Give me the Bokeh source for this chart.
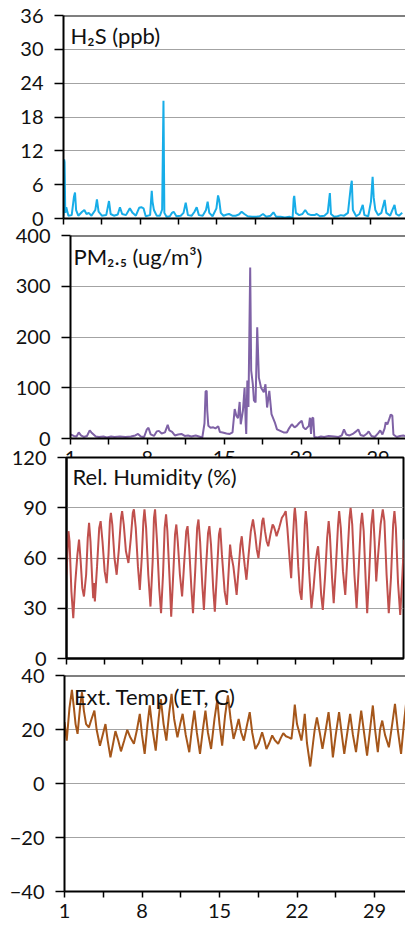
from bokeh.plotting import figure
from bokeh.models import FixedTicker, Span, Label
from bokeh.layouts import column
from bokeh.embed import file_html
from bokeh.resources import INLINE

# ---------------- data (day of month, value) ----------------
h2s_day = [1.00, 1.06, 1.10, 1.16, 1.25, 1.45, 1.75, 1.95, 2.05, 2.15, 2.35, 2.7, 2.9, 3.1, 3.3, 3.55, 3.9, 4.05, 4.2,
           4.5, 4.9, 5.15, 5.3, 5.6, 5.95, 6.15, 6.35, 6.7, 6.9, 7.05, 7.3, 7.6, 7.9, 8.1, 8.3, 8.5, 8.9, 9.05,
           9.12, 9.25, 9.5, 9.8, 10.0, 10.12, 10.2, 10.4, 10.7, 10.9, 11.05, 11.3, 11.7, 11.95, 12.15, 12.35,
           12.7, 12.95, 13.15, 13.35, 13.7, 14.0, 14.15, 14.3, 14.6, 14.95, 15.1, 15.2, 15.35, 15.6, 15.9, 16.1,
           16.4, 16.7, 17.0, 17.25, 17.5, 17.8, 18.2, 18.6, 18.9, 19.2, 19.5, 19.9, 20.15, 20.4, 20.8, 21.2,
           21.6, 21.9, 22.0, 22.05, 22.2, 22.5, 22.8, 23.05, 23.3, 23.6, 23.9, 24.1, 24.4, 24.8, 25.1, 25.3,
           25.4, 25.7, 26.0, 26.3, 26.6, 26.95, 27.2, 27.3, 27.4, 27.7, 28.0, 28.3, 28.45, 28.8, 29.05, 29.2,
           29.3, 29.45, 29.7, 30.0, 30.3, 30.45, 30.8, 31.0, 31.2, 31.35, 31.6, 31.9]
h2s_ppb = [0.5, 10.5, 10.0, 1.0, 2.0, 0.5, 0.6, 3.8, 4.6, 1.5, 0.5, 1.2, 1.5, 0.8, 1.0, 0.5, 1.5, 3.4, 1.2,
           0.5, 0.6, 3.1, 0.8, 0.5, 0.7, 2.0, 0.8, 0.6, 1.3, 1.8, 1.0, 0.5, 1.9, 2.0, 1.8, 0.4, 0.6, 4.9,
           3.0, 1.5, 0.5, 0.5, 1.6, 20.9, 1.0, 0.3, 0.4, 1.0, 1.2, 0.4, 0.5, 1.0, 2.8, 0.6,
           0.5, 1.2, 2.0, 0.6, 0.5, 1.5, 3.0, 1.0, 0.4, 1.8, 4.1, 3.3, 1.0, 0.5, 0.7, 0.8,
           0.5, 0.5, 0.7, 1.2, 0.8, 0.4, 0.3, 0.3, 0.4, 0.8, 0.3, 0.5, 1.1, 0.3, 0.3, 0.2,
           0.3, 0.1, 3.5, 4.0, 1.0, 0.6, 0.8, 1.5, 0.8, 0.6, 0.6, 0.8, 0.4, 0.5, 1.0, 4.5,
           0.8, 0.3, 0.4, 0.6, 0.5, 1.0, 5.5, 6.7, 1.5, 0.4, 0.8, 2.4, 0.6, 0.4, 3.0, 7.4,
           3.7, 1.5, 0.6, 1.0, 3.3, 1.0, 0.5, 1.5, 2.4, 0.8, 0.5, 1.0]

pm_day = [1.0, 1.3, 1.55, 1.75, 1.95, 2.2, 2.5, 2.75, 2.9, 3.1, 3.3, 3.6, 4.0, 4.3, 4.7, 5.0, 5.5, 6.0, 6.5,
          6.9, 7.15, 7.4, 7.7, 7.95, 8.1, 8.3, 8.6, 8.85, 9.05, 9.3, 9.6, 9.85, 10.0, 10.25, 10.5, 10.8, 11.1,
          11.4, 11.7, 12.0, 12.4, 12.7, 13.0, 13.2, 13.3, 13.4, 13.45, 13.55, 13.75, 14.0, 14.2, 14.45, 14.6,
          14.85, 15.2, 15.5, 15.75, 15.95, 16.1, 16.25, 16.4, 16.5, 16.7, 16.85, 16.95, 17.0, 17.1, 17.2,
          17.36, 17.45, 17.6, 17.7, 17.85, 18.0, 18.15, 18.35, 18.6, 18.75, 18.9, 19.1, 19.3, 19.6, 19.8,
          20.1, 20.4, 20.7, 20.9, 21.15, 21.4, 21.6, 21.8, 22.05, 22.2, 22.4, 22.7, 22.8, 22.9, 23.0, 23.1,
          23.2, 23.5, 23.8, 24.1, 24.5, 25.0, 25.4, 25.7, 25.9, 26.1, 26.4, 26.7, 27.0, 27.2, 27.4, 27.7,
          28.0, 28.15, 28.4, 28.7, 29.0, 29.2, 29.4, 29.6, 29.7, 29.85, 30.05, 30.15, 30.3, 30.4, 30.7,
          31.0, 31.3, 31.6, 31.9]
pm_ugm3 = [8, 5, 4, 12, 6, 3, 5, 16, 12, 8, 4, 3, 4, 2, 4, 3, 4, 3, 4,
           6, 9, 4, 3, 18, 21, 8, 5, 14, 15, 10, 12, 27, 16, 13, 6, 8, 9,
           5, 6, 4, 6, 4, 2, 30, 93, 94, 55, 25, 21, 22, 20, 24, 13,
           12, 10, 9, 12, 58, 45, 40, 72, 28, 55, 100, 30, 9, 114, 62,
           337, 134, 107, 75, 71, 219, 120, 100, 91, 107, 61, 94, 48, 32, 18,
           15, 12, 12, 20, 28, 22, 25, 30, 35, 22, 18, 25, 41, 9, 40, 41,
           3, 2, 4, 3, 5, 4, 3, 6, 18, 8, 6, 9, 14, 18, 7, 5,
           10, 14, 5, 3, 10, 16, 8, 20, 32, 28, 40, 47, 45, 8, 3,
           5, 6, 4, 5]

rh_day = [1.00, 1.08, 1.18, 1.28, 1.45, 1.62, 1.8, 2.0, 2.15, 2.3, 2.45, 2.6, 2.8, 2.95, 3.07, 3.2, 3.35, 3.45,
          3.52, 3.6, 3.8, 4.0, 4.13, 4.3, 4.5, 4.68, 4.85, 4.98, 5.07, 5.2, 5.4, 5.6, 5.8, 6.0, 6.1, 6.25,
          6.45, 6.68, 6.9, 7.08, 7.18, 7.35, 7.55, 7.72, 7.9, 8.05, 8.15, 8.3, 8.5, 8.7, 8.9, 9.02, 9.12,
          9.3, 9.5, 9.67, 9.85, 10.0, 10.13, 10.25, 10.45, 10.6, 10.8, 10.95, 11.07, 11.2, 11.4, 11.6, 11.8,
          11.98, 12.1, 12.25, 12.45, 12.6, 12.8, 12.98, 13.1, 13.25, 13.45, 13.6, 13.8, 13.98, 14.1, 14.25,
          14.45, 14.6, 14.8, 14.98, 15.1, 15.25, 15.5, 15.7, 15.85, 16.0, 16.1, 16.3, 16.6, 16.8, 16.95,
          17.07, 17.2, 17.35, 17.5, 17.7, 17.9, 18.1, 18.3, 18.45, 18.6, 18.8, 18.95, 19.05, 19.2, 19.35,
          19.5, 19.7, 19.9, 20.0, 20.15, 20.26, 20.5, 20.75, 20.95, 21.1, 21.25, 21.45, 21.6, 21.75, 21.88,
          21.94, 22.05, 22.25, 22.4, 22.55, 22.7, 22.85, 22.94, 23.05, 23.25, 23.46, 23.65, 23.85, 24.0,
          24.07, 24.2, 24.35, 24.5, 24.7, 24.9, 25.04, 25.15, 25.35, 25.5, 25.7, 25.9, 26.0, 26.15, 26.35,
          26.56, 26.75, 26.95, 27.05, 27.2, 27.4, 27.6, 27.8, 27.98, 28.1, 28.25, 28.45, 28.57, 28.75,
          28.95, 29.1, 29.25, 29.4, 29.55, 29.8, 30.0, 30.15, 30.35, 30.55, 30.75, 30.95, 31.07, 31.2,
          31.4, 31.6, 31.8, 31.95]
rh_pct = [50, 62, 76, 70, 40, 24, 45, 62, 71, 58, 42, 37, 50, 72, 81, 70, 48, 36,
          45, 34, 55, 78, 82, 70, 52, 45, 62, 82, 87, 80, 60, 50, 65, 84, 88, 80,
          64, 57, 72, 87, 89, 78, 55, 41, 60, 82, 89, 78, 50, 31, 58, 84, 89,
          70, 42, 27, 50, 78, 86, 76, 48, 25, 52, 74, 80, 70, 50, 37, 58,
          76, 79, 66, 42, 27, 52, 78, 83, 70, 44, 29, 55, 75, 79, 68,
          42, 28, 52, 74, 78, 62, 40, 32, 50, 68, 62, 55, 38, 55, 68,
          73, 64, 55, 47, 62, 76, 83, 74, 65, 60, 72, 82, 84, 76, 70,
          67, 74, 80, 79, 76, 73, 78, 84, 86, 88, 78, 60, 48, 70, 86,
          90, 82, 55, 40, 35, 55, 80, 88, 80, 52, 30, 42, 58, 65,
          67, 55, 38, 29, 48, 72, 82, 74, 48, 33, 55, 80, 88, 78, 52,
          38, 60, 84, 90, 80, 50, 30, 55, 80, 87, 76, 44, 27, 50,
          80, 89, 70, 46, 60, 80, 89, 82, 50, 27, 48, 80, 88, 78,
          45, 26, 50, 71]

et_day = [1.0, 1.2, 1.45, 1.67, 1.85, 2.0, 2.18, 2.4, 2.58, 2.75, 2.95, 3.2, 3.45, 3.7, 3.9, 4.2, 4.45, 4.7,
          4.9, 5.15, 5.4, 5.6, 5.85, 6.1, 6.4, 6.67, 6.95, 7.27, 7.55, 7.8, 8.0, 8.24, 8.5, 8.7, 8.95, 9.24,
          9.5, 9.7, 9.95, 10.2, 10.45, 10.67, 10.9, 11.2, 11.45, 11.67, 11.95, 12.27, 12.5, 12.73, 12.95,
          13.24, 13.5, 13.73, 13.95, 14.24, 14.55, 14.8, 15.0, 15.24, 15.5, 15.76, 16.0, 16.27, 16.5, 16.73,
          16.95, 17.2, 17.5, 17.73, 17.95, 18.24, 18.55, 18.85, 19.05, 19.24, 19.5, 19.76, 20.0, 20.3,
          20.55, 20.76, 21.0, 21.3, 21.5, 21.65, 21.8, 22.0, 22.4, 22.55, 22.7, 22.9, 23.2, 23.45, 23.6,
          23.8, 24.05, 24.3, 24.6, 24.85, 25.05, 25.24, 25.5, 25.8, 26.05, 26.27, 26.55, 26.8, 27.05,
          27.33, 27.55, 27.8, 28.05, 28.33, 28.6, 28.85, 29.05, 29.3, 29.5, 29.7, 29.95, 30.3, 30.6,
          30.85, 31.1, 31.4, 31.65, 31.88]
et_c = [22.7, 15.9, 28, 34.7, 28, 22, 18.4, 28, 33.8, 27, 22, 20.8, 24, 27, 20, 14, 18, 22,
        16, 9.7, 15, 19.4, 16, 11.9, 16, 19.9, 17, 14.7, 20, 25.8, 18, 11, 22, 28.9, 20, 12.2,
        24, 31.3, 22, 15.9, 26, 33.2, 24, 17.1, 22, 25.8, 18, 11.6, 20, 27, 19,
        11, 20, 27, 19, 12.8, 24, 31, 22, 14, 25, 32.6, 24, 16.5, 20, 23.9,
        19, 15.9, 22, 26.4, 19, 12.8, 15, 19, 16, 12.8, 15, 17.8, 16, 14.7,
        17, 18.6, 17.5, 17, 16.5, 22, 29.2, 22, 15.9, 20, 25.8, 15, 6.3, 15, 20,
        24.5, 19, 12.8, 20, 26.4, 19, 9.7, 18, 26.4, 18, 11, 19, 25.8, 18,
        11.6, 19, 27, 19, 10.3, 20, 28.9, 20, 11.6, 20, 23.3, 18, 13.4, 22,
        29.5, 20, 11, 22, 30.7]

day_ticks = [1, 8, 15, 22, 29]
half_week_ticks = [4.5, 11.5, 18.5, 25.5, 32.5]
all_ticks = [1, 4.5, 8, 11.5, 15, 18.5, 22, 25.5, 29, 32.5]

FONT = "Lato"
GRID = "#a3a3a3"


def panel(xs, ys, color, y_rng, y_ticks, x_end, height, b_left, b_top, b_bottom, b_right,
          title, tx, ty, xlabels, outline, transparent):
    p = figure(width=405, height=height, x_range=(1, x_end), y_range=y_rng,
               output_backend="svg", toolbar_location=None,
               min_border_left=b_left, min_border_right=b_right,
               min_border_top=b_top, min_border_bottom=b_bottom,
               background_fill_color="white", border_fill_color="white",
               border_fill_alpha=0.0 if transparent else 1.0)
    p.outline_line_color = "black" if outline else None
    p.outline_line_width = 2
    p.line(xs, ys, line_color=color, line_width=2)

    xa = p.xaxis[0]
    if xlabels:
        xa.ticker = FixedTicker(ticks=day_ticks, minor_ticks=half_week_ticks)
    else:
        xa.ticker = FixedTicker(ticks=[], minor_ticks=all_ticks)
    xa.axis_line_color = "black"
    xa.axis_line_width = 2
    xa.major_tick_out = 6
    xa.major_tick_in = 0
    xa.minor_tick_out = 6
    xa.minor_tick_in = 0
    xa.major_tick_line_width = 1.5
    xa.minor_tick_line_width = 1.5
    xa.major_tick_line_color = "black"
    xa.minor_tick_line_color = "black"
    xa.major_label_text_font = FONT
    xa.major_label_text_color = "#111111"
    xa.major_label_text_font_size = "20px"
    xa.major_label_standoff = 6

    ya = p.yaxis[0]
    ya.ticker = FixedTicker(ticks=y_ticks)
    ya.axis_line_color = "black"
    ya.axis_line_width = 2
    ya.major_tick_out = 9
    ya.major_tick_in = 0
    ya.major_tick_line_width = 1.5
    ya.major_tick_line_color = "black"
    ya.minor_tick_out = 0
    ya.minor_tick_in = 0
    ya.major_label_text_font = FONT
    ya.major_label_text_font_size = "20px"
    ya.major_label_text_color = "#111111"
    ya.major_label_standoff = 11

    p.xgrid.visible = False
    p.ygrid.ticker = FixedTicker(ticks=y_ticks)
    p.ygrid.grid_line_color = GRID
    p.ygrid.grid_line_width = 1.2

    if not outline:
        p.add_layout(Span(location=y_rng[1], dimension="width", line_color="black", line_width=2))

    p.add_layout(Label(x=tx, y=ty, text=title, text_font=FONT, text_font_size="22px",
                       text_color="#111111", text_baseline="alphabetic"))
    return p


p1 = panel(h2s_day, h2s_ppb, "#17ade8", (0, 36), [0, 6, 12, 18, 24, 30, 36], 32.2,
           228, 63, 15, 10, 0, "H₂S (ppb)", 1.64, 32.4, False, False, False)
p2 = panel(pm_day, pm_ugm3, "#7f62a6", (0, 400), [0, 100, 200, 300, 400], 31.5,
           258, 70, 20, 35, 0, "PM₂.₅ (ug/m³)", 1.27, 359.0, True, False, True)
p3 = panel(rh_day, rh_pct, "#c0504d", (0, 120), [0, 30, 60, 90, 120], 31.9,
           231, 66, 20, 10, 2, "Rel. Humidity (%)", 1.55, 108.8, False, True, True)
p4 = panel(et_day, et_c, "#a5561a", (-40, 40), [-40, -20, 0, 20, 40], 31.8,
           271, 64, 20, 35, 0, "Ext. Temp (ET, C)", 1.85, 32.4, True, False, True)

layout = column(
    column(p1),
    column(p2, margin=(-13, 0, 0, 0)),
    column(p3, margin=(-36, 0, 0, 0)),
    column(p4, margin=(-13, 0, 0, 0)),
    spacing=0,
)

open("out.html", "w").write(file_html(layout, INLINE))
